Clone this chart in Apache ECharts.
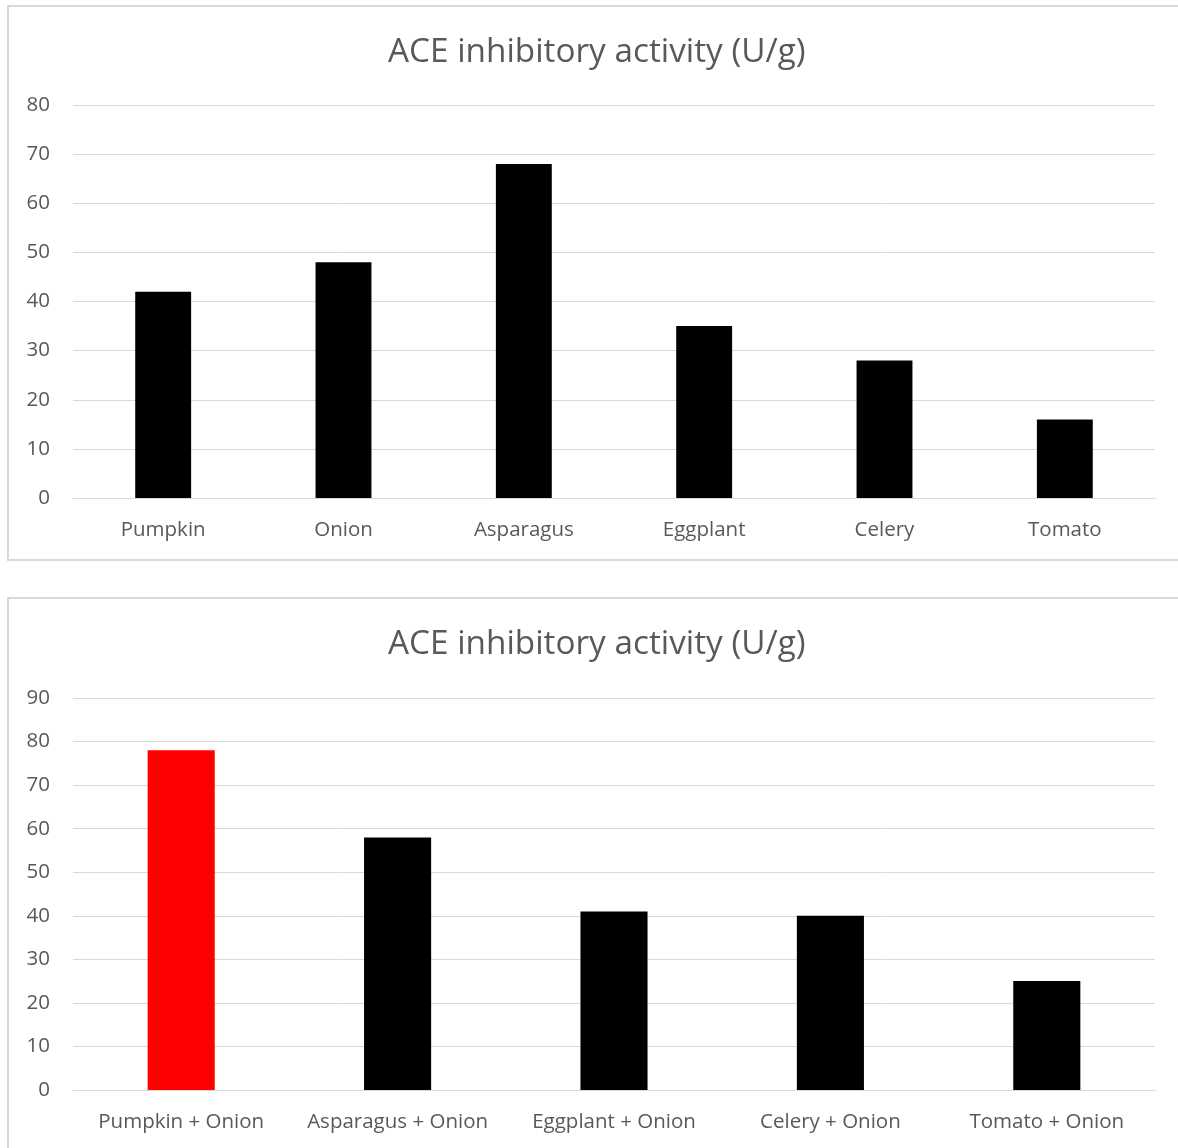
<!DOCTYPE html>
<html>
<head>
<meta charset="utf-8">
<script src="https://cdn.jsdelivr.net/npm/echarts@6/dist/echarts.min.js"></script>
<style>
html,body{margin:0;padding:0;background:#fff;}
#wrap{position:relative;width:1178px;height:1148px;overflow:hidden;}
.box{position:absolute;border:2px solid #d9d9d9;box-sizing:border-box;}
#chart{position:absolute;left:0;top:0;width:1178px;height:1148px;}
</style>
</head>
<body>
<div id="wrap">
<div class="box" style="left:7px;top:5px;width:1190px;height:556px;"></div>
<div class="box" style="left:7px;top:597px;width:1190px;height:580px;"></div>
<div id="chart"></div>
</div>
<script>
const titleText = 'ACE inhibitory activity (U/g)';
const cats1 = ['Pumpkin', 'Onion', 'Asparagus', 'Eggplant', 'Celery', 'Tomato'];
const vals1 = [42, 48, 68, 35, 28, 16];
const cats2 = ['Pumpkin + Onion', 'Asparagus + Onion', 'Eggplant + Onion', 'Celery + Onion', 'Tomato + Onion'];
const vals2 = [78, 58, 41, 40, 25];
const colors2 = ['#ff0000', '#000000', '#000000', '#000000', '#000000'];

const FONT = 'Open Sans';
const txt = '#595959';
const chart = echarts.init(document.getElementById('chart'));
function xAxis(idx, cats){
  return {type:'category', gridIndex:idx, data:cats,
    axisLine:{show:true, lineStyle:{color:'#d9d9d9', width:1}},
    axisTick:{show:false},
    axisLabel:{color:txt, fontFamily:FONT, fontSize:20.5, margin:22, interval:0}};
}
function yAxis(idx, max){
  return {type:'value', gridIndex:idx, min:0, max:max, interval:10,
    axisLine:{show:false}, axisTick:{show:false},
    splitLine:{lineStyle:{color:'#d9d9d9', width:1}},
    axisLabel:{color:txt, fontFamily:FONT, fontSize:20.5, margin:23}};
}
chart.setOption({
  animation:false,
  title:[
    {text:titleText, left:383, top:31, textStyle:{color:txt, fontFamily:FONT, fontSize:33.3, fontWeight:'normal'}},
    {text:titleText, left:383, top:623, textStyle:{color:txt, fontFamily:FONT, fontSize:33.3, fontWeight:'normal'}}
  ],
  grid:[
    {left:73, width:1082, top:105, height:393},
    {left:73, width:1082, top:698, height:392}
  ],
  xAxis:[xAxis(0,cats1), xAxis(1,cats2)],
  yAxis:[yAxis(0,80), yAxis(1,90)],
  series:[
    {type:'bar', xAxisIndex:0, yAxisIndex:0, data:vals1, barWidth:'31%', itemStyle:{color:'#000000'}},
    {type:'bar', xAxisIndex:1, yAxisIndex:1, barWidth:'31%',
      data:vals2.map((v,i)=>({value:v, itemStyle:{color:colors2[i]}}))}
  ]
});
</script>
</body>
</html>
